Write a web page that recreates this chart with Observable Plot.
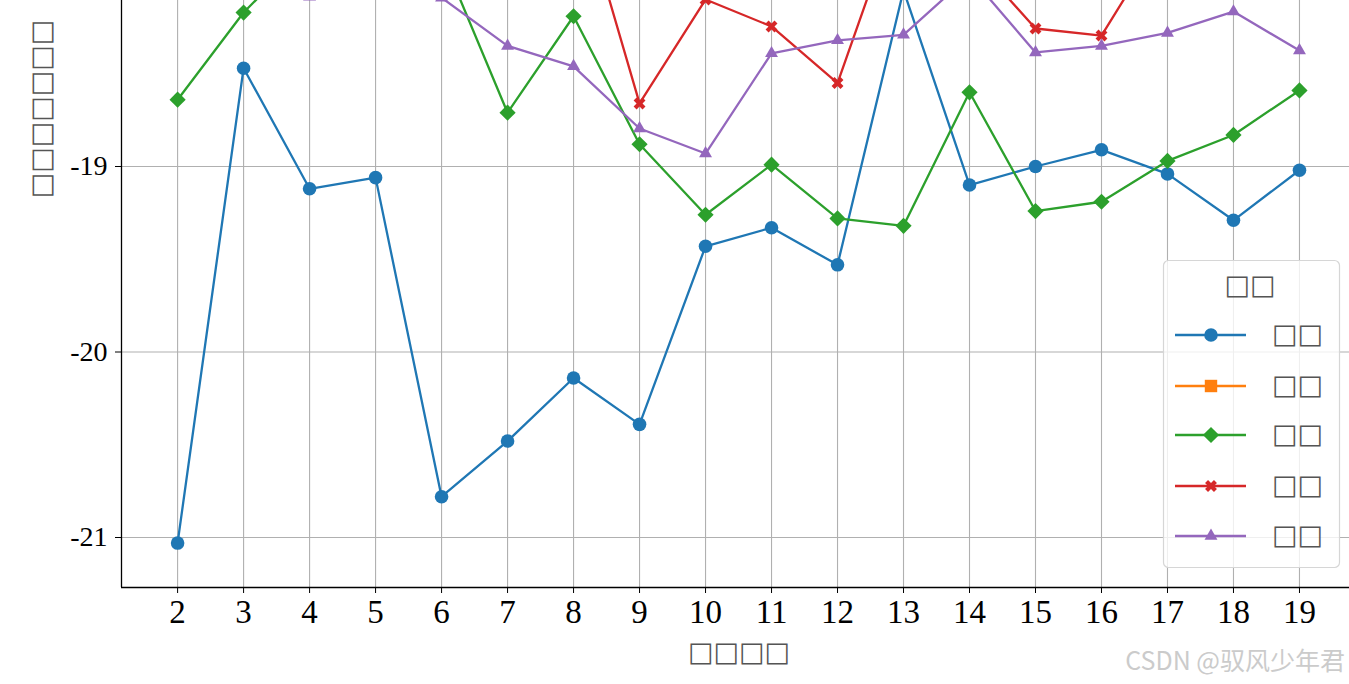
<!DOCTYPE html>
<html><head><meta charset="utf-8">
<script src="https://cdn.jsdelivr.net/npm/d3@7"></script>
<script src="https://cdn.jsdelivr.net/npm/@observablehq/plot@0.6"></script>
<style>
html,body{margin:0;padding:0;background:#fff;}
#chart{position:relative;width:1349px;height:684px;overflow:hidden;}
</style></head><body><div id="chart"></div>
<script>
// ---- data ----
const days = [2,3,4,5,6,7,8,9,10,11,12,13,14,15,16,17,18,19];
const yTicks = [-21,-20,-19];
const seriesNames = ["□□","□□","□□","□□","□□"];
const legendTitle = "□□";
const xLabel = "□□□□";
const yLabel = "□□□□□□□";
const watermark = "CSDN @驭风少年君";
// series 1 (blue, circles)
const s1 = [-21.03,-18.47,-19.12,-19.06,-20.78,-20.48,-20.14,-20.39,-19.43,-19.33,-19.53,-18.05,-19.10,-19.00,-18.91,-19.04,-19.29,-19.02];
// series 2 (orange, squares) – above the visible range
const s2 = [-17.3,-17.0,-17.2,-17.4,-17.1,-17.5,-17.3,-17.6,-17.2,-17.4,-17.5,-17.3,-17.0,-17.4,-17.6,-17.2,-17.3,-17.5];
// series 3 (green, diamonds)
const s3 = [-18.64,-18.17,-17.81,-17.75,-17.86,-18.71,-18.19,-18.88,-19.26,-18.99,-19.28,-19.32,-18.60,-19.24,-19.19,-18.97,-18.83,-18.59];
// series 4 (red, X)
const s4 = [-17.6,-17.5,-17.7,-17.6,-17.5,-17.6,-17.44,-18.66,-18.10,-18.245,-18.55,-17.54,-17.86,-18.256,-18.294,-17.72,-17.6,-17.7];
// series 5 (purple, triangles)
const s5 = [-17.8,-17.9,-18.085,-17.85,-18.09,-18.35,-18.46,-18.795,-18.93,-18.39,-18.32,-18.29,-17.97,-18.385,-18.35,-18.28,-18.165,-18.375];
const seriesValues = [s1,s2,s3,s4,s5];

// ---- styles ----
const colors = ["#1f77b4","#ff7f0e","#2ca02c","#d62728","#9467bd"];
const markerStyle = [
  {symbol:"circle", d3s:d3.symbolCircle, r:6.8, rotate:0},
  {symbol:"square", d3s:d3.symbolSquare, r:7, rotate:0},
  {symbol:"diamond2", d3s:d3.symbolDiamond2, r:7.3, rotate:0},
  {symbol:"cross", d3s:d3.symbolCross, r:5.3, rotate:45},
  {symbol:"triangle", d3s:d3.symbolTriangle, r:4.8, rotate:0}
];

const rows = [];
seriesValues.forEach((vals,k)=>vals.forEach((v,i)=>rows.push({k, day:days[i], value:v})));

const marks = [
  Plot.gridX(days,{stroke:"#b0b0b0",strokeOpacity:1,strokeWidth:1.1}),
  Plot.gridY(yTicks,{stroke:"#b0b0b0",strokeOpacity:1,strokeWidth:1.1}),
];
seriesValues.forEach((_,k)=>{
  const d = rows.filter(r=>r.k===k);
  const m = markerStyle[k];
  marks.push(Plot.line(d,{x:"day",y:"value",stroke:colors[k],strokeWidth:2.3,clip:true}));
  marks.push(Plot.dot(d,{x:"day",y:"value",symbol:m.symbol,r:m.r,fill:colors[k],stroke:"none",rotate:m.rotate,clip:true}));
});
marks.push(
  Plot.ruleX([1.15],{stroke:"black",strokeWidth:1.3}),
  Plot.ruleY([-21.2695],{stroke:"black",strokeWidth:1.3}),
  Plot.axisX({ticks:days,tickSize:6,tickPadding:6,fontSize:33,tickFormat:d=>String(d),label:null}),
  Plot.axisY({ticks:yTicks,tickSize:6,tickPadding:8,fontSize:28,tickFormat:d=>String(d),label:null})
);

const svg = Plot.plot({
  width:1349, height:684,
  marginLeft:121, marginRight:0, marginTop:0, marginBottom:97,
  x:{domain:[1.15,19.758]},
  y:{domain:[-21.2695,-18.1051]},
  style:{fontFamily:"Liberation Serif",color:"black",background:"white",overflow:"hidden"},
  marks
});
document.getElementById("chart").appendChild(svg);

const g = d3.select(svg).append("g");
// y label
g.append("text").attr("transform","translate(50,109) rotate(-90)")
  .attr("text-anchor","middle").attr("font-family","DejaVu Sans").attr("font-size",27)
  .attr("fill","#555").text(yLabel);
// x label
g.append("text").attr("x",739).attr("y",661)
  .attr("text-anchor","middle").attr("font-family","DejaVu Sans").attr("font-size",27)
  .attr("fill","#555").text(xLabel);
// watermark
g.append("text").attr("x",1345).attr("y",670)
  .attr("text-anchor","end").attr("font-family","Noto Sans CJK SC").attr("font-size",25)
  .attr("fill","#cbcbcb").text(watermark);
// legend
const lg = g.append("g");
lg.append("rect").attr("x",1163.5).attr("y",260.5).attr("width",176).attr("height",307).attr("rx",5)
  .attr("fill","white").attr("fill-opacity",0.8).attr("stroke","#d6d6d6").attr("stroke-width",1.2);
lg.append("text").attr("x",1250).attr("y",294).attr("text-anchor","middle")
  .attr("font-family","DejaVu Sans").attr("font-size",27).attr("fill","#555").text(legendTitle);
const rowY = [335,386,435,486,536];
seriesNames.forEach((name,k)=>{
  const y = rowY[k], m = markerStyle[k];
  lg.append("line").attr("x1",1175).attr("x2",1246).attr("y1",y).attr("y2",y)
    .attr("stroke",colors[k]).attr("stroke-width",2.3);
  lg.append("path").attr("d",d3.symbol(m.d3s, m.r*m.r*Math.PI)())
    .attr("transform",`translate(1211,${y}) rotate(${m.rotate})`).attr("fill",colors[k]);
  lg.append("text").attr("x",1272).attr("y",y+8).attr("text-anchor","start").attr("font-family","DejaVu Sans")
    .attr("font-size",27).attr("fill","#555").text(name);
});
</script></body></html>
